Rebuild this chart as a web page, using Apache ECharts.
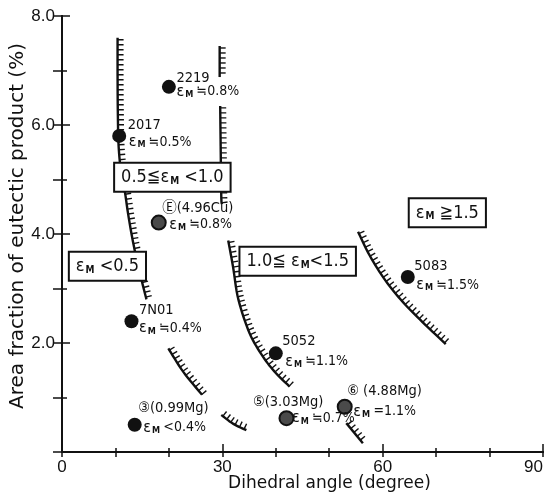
<!DOCTYPE html>
<html>
<head>
<meta charset="utf-8">
<script src="https://cdn.jsdelivr.net/npm/echarts@6/dist/echarts.min.js"></script>
<style>
  html, body { margin: 0; padding: 0; background: #fff; }
  #chart { width: 545px; height: 499px; }
</style>
</head>
<body>
<div id="chart"></div>
<script>
// alloy points (dihedral angle in degree, area fraction in %)
const alloys = ['2219', '2017', 'E', '7N01', '3', '5052', '5', '6', '5083'];
const angles = [20.0, 10.7, 18.1, 13.0, 13.6, 40.0, 42.0, 52.9, 64.7];
const areaFractions = [6.70, 5.80, 4.21, 2.40, 0.50, 1.81, 0.62, 0.83, 3.21];
const alloyTags = ['2219', '2017', 'Ⓔ(4.96Cu)', '7N01', '③(0.99Mg)', '5052', '⑤(3.03Mg)', '⑥ (4.88Mg)', '5083'];
const strainTexts = ['≒0.8%', '≒0.5%', '≒0.8%', '≒0.4%', '<0.4%', '≒1.1%', '≒0.7%', '=1.1%', '≒1.5%'];
const shaded = [false, false, true, false, false, false, true, true, false];

// region labels
const regionTexts = [['0.5≦ε', ' <1.0'], ['ε', ' <0.5'], ['1.0≦ ε', '<1.5'], ['ε', ' ≧1.5']];
const regionX = [20.65, 8.5, 44.1, 72.1];
const regionY = [5.04, 3.41, 3.50, 4.39];

// hatched boundary pieces (visible parts only)
const boundaryA = [[10.4, 7.6], [10.4, 6.9], [10.45, 6.2], [10.6, 5.6], [11.1, 5.1], [11.8, 4.75], [12.4, 4.35], [13.3, 3.85], [14.4, 3.35], [15.8, 2.8]];
const boundaryB1 = [[19.9, 1.9], [22.7, 1.47], [26.2, 1.05]];
const boundaryB2 = [[29.8, 0.68], [32.0, 0.52], [34.5, 0.4]];
const boundaryC1 = [[29.5, 7.45], [29.5, 6.88]];
const boundaryC2 = [[29.6, 6.35], [29.7, 5.5], [29.8, 4.7], [29.9, 4.55]];
const boundaryC3 = [[31.1, 3.88], [32.0, 3.4], [33.0, 2.8], [35.1, 2.18], [37.6, 1.75], [40.0, 1.45], [42.6, 1.2]];
const boundaryC4 = [[53.2, 0.53], [56.3, 0.16]];
const boundaryD = [[55.4, 4.04], [57.6, 3.6], [60.5, 3.15], [63.8, 2.75], [67.5, 2.38], [71.8, 1.98]];
const boundaries = [boundaryA, boundaryB1, boundaryB2, boundaryC1, boundaryC2, boundaryC3, boundaryC4, boundaryD];

const HATCH_GAP = 5;
const HATCH_LEN = 6;
const labelFont = '"DejaVu Sans Condensed", "Liberation Sans Narrow", "Liberation Sans", "Noto Sans CJK JP", sans-serif';

// label offsets from dot centre (px)
const tagOffsets = [[7, -9], [8, -11], [3, -14], [7, -11], [3, -17], [6, -12], [-34, -16], [2, -16], [6, -11]];
const strainOffsets = [[7, 5], [9, 6], [10, 2], [7, 7], [8, 3], [9, 8], [5, 0], [8, 5], [8, 8]];

function smooth(pts) {
  if (pts.length < 3) return pts;
  const out = [];
  for (let i = 0; i < pts.length - 1; i++) {
    const p0 = pts[i - 1] || pts[i], p1 = pts[i], p2 = pts[i + 1], p3 = pts[i + 2] || pts[i + 1];
    for (let k = 0; k < 8; k++) {
      const t = k / 8, t2 = t * t, t3 = t2 * t;
      out.push([0, 1].map(j => 0.5 * (2 * p1[j] + (-p0[j] + p2[j]) * t +
        (2 * p0[j] - 5 * p1[j] + 4 * p2[j] - p3[j]) * t2 +
        (-p0[j] + 3 * p1[j] - 3 * p2[j] + p3[j]) * t3)));
    }
  }
  out.push(pts[pts.length - 1]);
  return out;
}

function renderBoundary(params, api) {
  const curve = boundaries[api.value(2)];
  const dense = smooth(curve.map(p => api.coord(p)));
  const children = [{
    type: 'polyline',
    shape: { points: dense },
    style: { stroke: '#111', lineWidth: 2.4, fill: null }
  }];
  let next = 2, run = 0;
  for (let i = 0; i < dense.length - 1; i++) {
    const [x0, y0] = dense[i], [x1, y1] = dense[i + 1];
    const dx = x1 - x0, dy = y1 - y0, len = Math.hypot(dx, dy);
    if (!len) continue;
    while (next <= run + len) {
      const t = (next - run) / len;
      const px = x0 + dx * t, py = y0 + dy * t;
      // hatch on the right-hand side of the boundary
      const nx = dy / len, ny = -dx / len;
      children.push({
        type: 'line',
        shape: { x1: px, y1: py, x2: px + nx * HATCH_LEN, y2: py + ny * HATCH_LEN },
        style: { stroke: '#111', lineWidth: 1.4 }
      });
      next += HATCH_GAP;
    }
    run += len;
  }
  return { type: 'group', children };
}

const tickStyle = { color: '#111', width: 1.5 };

// an extra axis that only draws inward ticks
function tickAxis(position, min, max, interval, length) {
  return {
    type: 'value', position, min, max, interval,
    axisLine: { show: position === 'top' || position === 'right', lineStyle: { color: '#111', width: 2 } },
    axisTick: { inside: true, length, lineStyle: tickStyle },
    axisLabel: { show: false },
    splitLine: { show: false }
  };
}

const hidden = { color: 'transparent', opacity: 1 };

const chart = echarts.init(document.getElementById('chart'));

chart.setOption({
  backgroundColor: '#fff',
  animation: false,
  grid: { left: 62, right: 2, top: 16, bottom: 47, containLabel: false, outerBoundsMode: 'none' },
  xAxis: [
    {
      type: 'value', min: 0, max: 90, interval: 30, position: 'bottom',
      axisLine: { lineStyle: { color: '#111', width: 2 } },
      splitLine: { show: false },
      name: 'Dihedral angle (degree)', nameLocation: 'middle', nameGap: 23, nameMoveOverlap: false,
      nameTextStyle: { fontFamily: 'DejaVu Sans', fontSize: 17, color: '#111', padding: [0, 0, 0, 54] },
      axisTick: { inside: true, length: 8, lineStyle: tickStyle },
      axisLabel: { fontFamily: 'Liberation Sans', fontSize: 17, color: '#111', margin: 7, alignMaxLabel: 'right' }
    },
    tickAxis('bottom', 0, 90, 10, 4),
    tickAxis('top', 0, 90, 10, 5)
  ],
  yAxis: [
    {
      type: 'value', min: 0, max: 8, interval: 2, position: 'left',
      axisLine: { lineStyle: { color: '#111', width: 2 } },
      splitLine: { show: false },
      name: 'Area fraction of eutectic product (%)', nameLocation: 'middle', nameGap: 34, nameMoveOverlap: false,
      nameTextStyle: { fontFamily: 'DejaVu Sans', fontSize: 20, color: '#111', padding: [0, 0, 0, 16] },
      axisTick: { inside: true, length: 8, lineStyle: tickStyle },
      axisLabel: {
        fontFamily: 'Liberation Sans', fontSize: 17, color: '#111', margin: 7,
        formatter: v => (v === 0 ? '' : v.toFixed(1))
      }
    },
    tickAxis('left', 0, 8, 1, 5),
    tickAxis('right', 0, 8, 1, 9)
  ],
  series: [
    {
      type: 'custom',
      name: 'boundaries',
      z: 2,
      silent: true,
      clip: false,
      renderItem: renderBoundary,
      encode: { x: 0, y: 1 },
      data: boundaries.map((c, i) => [c[0][0], c[0][1], i])
    },
    {
      type: 'scatter',
      name: 'alloys',
      z: 4,
      symbolSize: 14,
      data: alloys.map((a, i) => ({
        name: a,
        value: [angles[i], areaFractions[i]],
        itemStyle: shaded[i]
          ? { color: '#4a4a4a', borderColor: '#111', borderWidth: 2, opacity: 1 }
          : { color: '#111', opacity: 1 }
      }))
    },
    {
      type: 'scatter',
      name: 'tags',
      z: 5,
      symbolSize: 1,
      itemStyle: hidden,
      data: alloys.map((a, i) => ({
        value: [angles[i], areaFractions[i]],
        label: {
          show: true, position: 'right', distance: 0, offset: tagOffsets[i],
          formatter: alloyTags[i], fontFamily: labelFont, fontSize: 14.5, color: '#111'
        }
      }))
    },
    {
      type: 'scatter',
      name: 'strains',
      z: 5,
      symbolSize: 1,
      itemStyle: hidden,
      data: alloys.map((a, i) => ({
        value: [angles[i], areaFractions[i]],
        label: {
          show: true, position: 'right', distance: 0, offset: strainOffsets[i],
          formatter: '{e|ε}{m|M} {t|' + strainTexts[i] + '}',
          rich: {
            e: { fontFamily: labelFont, fontSize: 16, color: '#111' },
            m: { fontFamily: labelFont, fontSize: 9, fontWeight: 'bold', color: '#111', padding: [6, 0, 0, 1] },
            t: { fontFamily: labelFont, fontSize: 14, color: '#111' }
          }
        }
      }))
    },
    {
      type: 'scatter',
      name: 'regions',
      z: 6,
      symbolSize: 1,
      itemStyle: hidden,
      data: regionTexts.map((t, i) => ({
        value: [regionX[i], regionY[i]],
        label: {
          show: true, position: 'inside',
          formatter: '{t|' + t[0] + '}{m|M}{t|' + t[1] + '}',
          backgroundColor: '#fff', borderColor: '#111', borderWidth: 2, padding: [5, 6, 4, 6],
          rich: {
            t: { fontFamily: labelFont, fontSize: 18, color: '#111' },
            m: { fontFamily: labelFont, fontSize: 10, fontWeight: 'bold', color: '#111', padding: [7, 0, 0, 1] }
          }
        }
      }))
    }
  ]
});
</script>
</body>
</html>
